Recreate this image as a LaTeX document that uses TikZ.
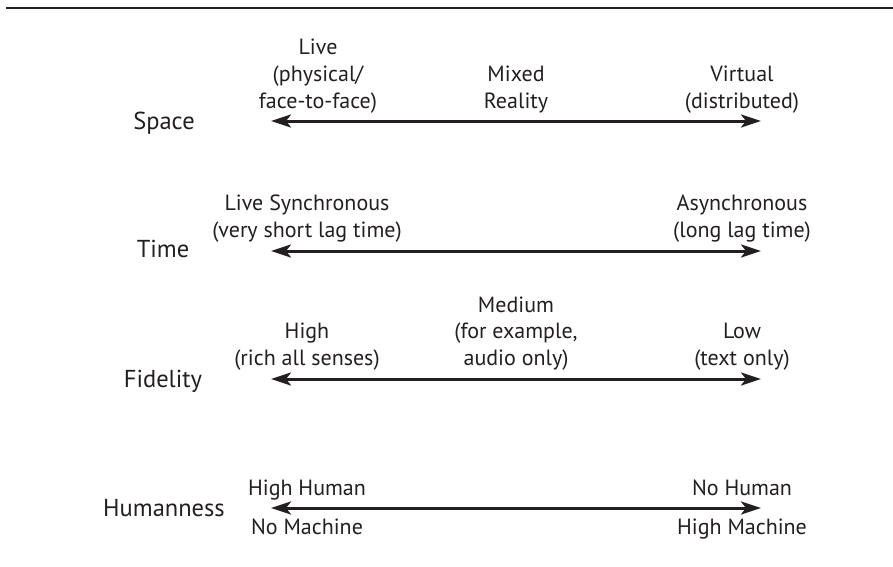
\documentclass[tikz,border=0pt]{standalone}
\usepackage{fontspec}
\setmainfont{PT Sans}
\usetikzlibrary{arrows.meta}
\definecolor{ink}{HTML}{231F20}
\tikzset{
  lab/.style={anchor=base, inner sep=0pt, text=ink, font=\fontsize{22}{27}\selectfont},
  ttl/.style={anchor=base, inner sep=0pt, text=ink, font=\fontsize{24.5}{29}\selectfont},
  axis/.style={ink, line width=3pt, {Stealth[length=20pt,width=13pt,inset=5pt]}-{Stealth[length=20pt,width=13pt,inset=5pt]}},
  rule/.style={ink, line width=2.5pt}
}
\begin{document}
\begin{tikzpicture}[x=1pt,y=-1pt]
\useasboundingbox (0,0) rectangle (893,566);
\coordinate (t1) at (6,8);
\coordinate (t2) at (893,8);
\draw[rule] (t1) -- (t2);

% Space
\node[ttl] (space) at (164,129) {Space};
\coordinate (a1L) at (271,121);
\coordinate (a1R) at (761,121);
\draw[axis] (a1L) -- (a1R);
\node[lab] (s1a) at (318,54) {Live};
\node[lab] (s1b) at (318,81) {(physical/};
\node[lab] (s1c) at (318,108) {face-to-face)};
\node[lab] (s2a) at (516,81) {Mixed};
\node[lab] (s2b) at (516,108) {Reality};
\node[lab] (s3a) at (742,81) {Virtual};
\node[lab] (s3b) at (742,108) {(distributed)};

% Time
\node[ttl] (time) at (163,257) {Time};
\coordinate (a2L) at (271,251);
\coordinate (a2R) at (761,251);
\draw[axis] (a2L) -- (a2R);
\node[lab] (t1a) at (307,210) {Live Synchronous};
\node[lab] (t1b) at (307,237) {(very short lag time)};
\node[lab] (t2a) at (742,210) {Asynchronous};
\node[lab] (t2b) at (742,237) {(long lag time)};

% Fidelity
\node[ttl] (fid) at (163,387) {Fidelity};
\coordinate (a3L) at (271,379);
\coordinate (a3R) at (761,379);
\draw[axis] (a3L) -- (a3R);
\node[lab] (f1a) at (307,338) {High};
\node[lab] (f1b) at (307,365) {(rich all senses)};
\node[lab] (f2a) at (516,312) {Medium};
\node[lab] (f2b) at (516,338) {(for example,};
\node[lab] (f2c) at (516,365) {audio only)};
\node[lab] (f3a) at (742,338) {Low};
\node[lab] (f3b) at (742,365) {(text only)};

% Humanness
\node[ttl] (hum) at (164,516) {Humanness};
\coordinate (a4L) at (271,508);
\coordinate (a4R) at (761,508);
\draw[axis] (a4L) -- (a4R);
\node[lab] (h1a) at (307,495) {High Human};
\node[lab] (h1b) at (307,534) {No Machine};
\node[lab] (h2a) at (742,495) {No Human};
\node[lab] (h2b) at (742,534) {High Machine};
\end{tikzpicture}
\end{document}
